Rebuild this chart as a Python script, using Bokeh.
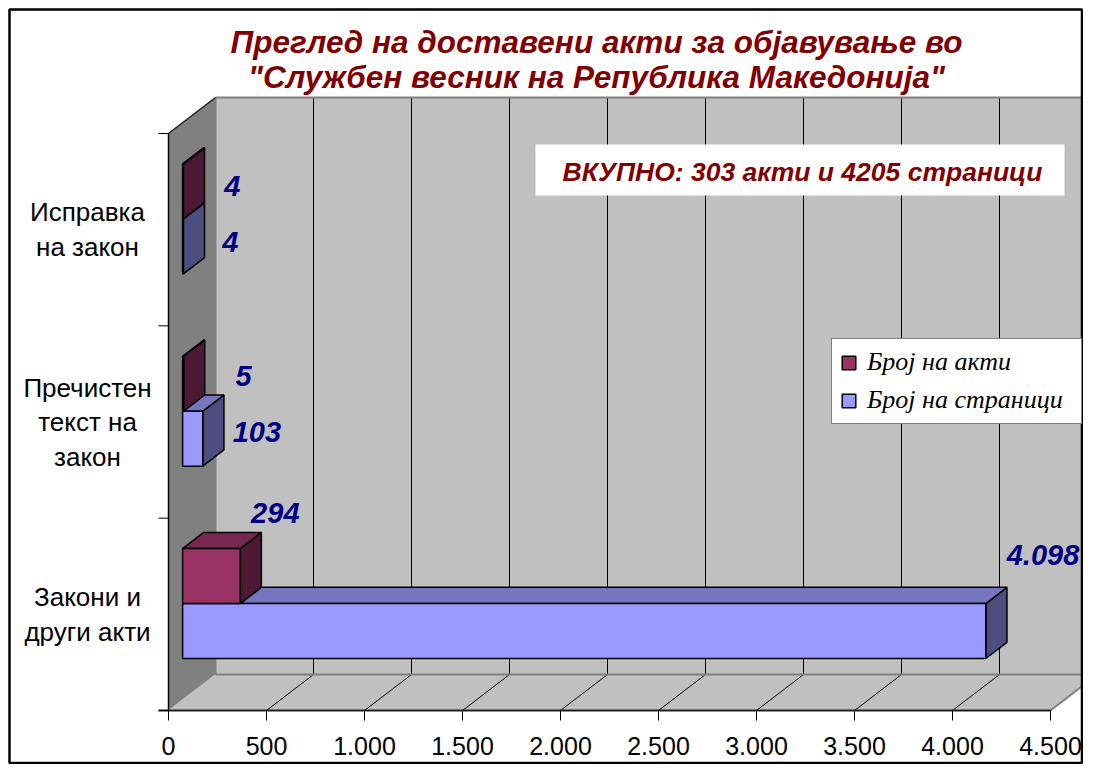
from bokeh.plotting import figure
from bokeh.models import Range1d, Legend, LegendItem
from bokeh.core.properties import value
from bokeh.embed import file_html
from bokeh.resources import INLINE

# ---------------- data ----------------
categories = ["Закони и\nдруги акти", "Пречистен\nтекст на\nзакон", "Исправка\nна закон"]
series_names = ["Број на акти", "Број на страници"]
acts = [294, 5, 4]
pages = [4098, 103, 4]
x_ticks = [0, 500, 1000, 1500, 2000, 2500, 3000, 3500, 4000, 4500]
title_lines = ["Преглед на доставени акти за објавување во",
               "\"Службен весник на Република Македонија\""]
total_text = "ВКУПНО: 303 акти и 4205 страници"
x_max = 4500

# ---------------- layout helpers (pixels) ----------------
W, H = 1083, 764
X0_PX = 168                 # px of value 0
SX = 98 / 500               # px per unit
Y0_PX = 710                 # px (from top) of category 0
SY = 577 / 3                # px per category
DX = 47 / SX                # 3D depth in data units
DY = 36 / SY
BAR_W = 1 / 3.5
F0, F1 = 0.3, 0.75
N = len(categories)


def fx(px):
    return (px - X0_PX) / SX


def fy(py):
    return (Y0_PX - py) / SY


def fmt(v):
    return f"{v:,}".replace(",", ".")


p = figure(width=W, height=H,
           x_range=Range1d(fx(0), fx(W)),
           y_range=Range1d(fy(H), fy(0)),
           output_backend="svg", toolbar_location=None,
           x_axis_type=None, y_axis_type=None)
p.min_border = 0
p.min_border_left = p.min_border_right = p.min_border_top = p.min_border_bottom = 0
p.outline_line_color = None
p.background_fill_color = "white"
p.border_fill_color = "white"

SANS = value("Liberation Sans")

# ---------------- walls & floor ----------------
p.patch([0, DX, DX, 0], [0, DY, N + DY, N], fill_color="#808080", line_color="#808080", line_width=1)
p.patch([DX, x_max + DX, x_max + DX, DX], [DY, DY, N + DY, N + DY], fill_color="#C0C0C0",
        line_color="#C0C0C0", line_width=1)
p.patch([0, x_max, x_max + DX, DX], [0, 0, DY, DY], fill_color="#C0C0C0", line_color="#C0C0C0", line_width=1)

# grid lines on back wall
inner = x_ticks[1:]
p.segment(x0=[t + DX for t in inner], y0=[DY] * len(inner), x1=[t + DX for t in inner],
          y1=[N + DY] * len(inner), line_color="black", line_width=1)
# floor lines
p.segment(x0=inner[:-1], y0=[0] * (len(inner) - 1), x1=[t + DX for t in inner[:-1]],
          y1=[DY] * (len(inner) - 1), line_color="black", line_width=1)
# gray wall edges
p.segment(x0=[DX, x_max, DX, DX], y0=[DY, 0, N + DY, DY],
          x1=[x_max + DX, x_max + DX, x_max + DX, DX], y1=[DY, DY, N + DY, N + DY],
          line_color="#808080", line_width=2)
p.segment(x0=[0], y0=[N], x1=[DX], y1=[N + DY], line_color="#202020", line_width=1.5)


# ---------------- 3D bars ----------------
def faces(vals, lo):
    fr_x, fr_y, tp_x, tp_y, sd_x, sd_y = [], [], [], [], [], []
    for c, v in enumerate(vals):
        y0 = c + lo
        y1 = y0 + BAR_W
        fr_x.append([0 + F0 * DX, v + F0 * DX, v + F0 * DX, 0 + F0 * DX])
        fr_y.append([y0 + F0 * DY, y0 + F0 * DY, y1 + F0 * DY, y1 + F0 * DY])
        tp_x.append([0 + F0 * DX, v + F0 * DX, v + F1 * DX, 0 + F1 * DX])
        tp_y.append([y1 + F0 * DY, y1 + F0 * DY, y1 + F1 * DY, y1 + F1 * DY])
        sd_x.append([v + F0 * DX, v + F1 * DX, v + F1 * DX, v + F0 * DX])
        sd_y.append([y0 + F0 * DY, y0 + F1 * DY, y1 + F1 * DY, y1 + F0 * DY])
    return (fr_x, fr_y), (tp_x, tp_y), (sd_x, sd_y)


def draw_series(vals, lo, front, top, side):
    fr, tp, sd = faces(vals, lo)
    p.patches(xs=sd[0], ys=sd[1], fill_color=side, line_color="black", line_width=1.5)
    p.patches(xs=tp[0], ys=tp[1], fill_color=top, line_color="black", line_width=1.5)
    return p.patches(xs=fr[0], ys=fr[1], fill_color=front, line_color="black", line_width=1.5)


r_pages = draw_series(pages, 0.5 - BAR_W, "#9999FF", "#7575C0", "#4D4D80")
r_acts = draw_series(acts, 0.5, "#993366", "#772850", "#4C1933")

# ---------------- axes (drawn on the scales) ----------------
tick_len_x = 10 / SX
tick_len_y = 10 / SY
p.segment(x0=[0], y0=[0], x1=[0], y1=[N], line_color="black", line_width=1.5)
p.segment(x0=[-tick_len_x], y0=[0], x1=[x_max], y1=[0], line_color="#202020", line_width=2)
p.segment(x0=[-tick_len_x] * (N + 1), y0=list(range(N + 1)), x1=[0] * (N + 1), y1=list(range(N + 1)),
          line_color="black", line_width=1)
p.segment(x0=x_ticks, y0=[0] * len(x_ticks), x1=x_ticks, y1=[-tick_len_y] * len(x_ticks),
          line_color="black", line_width=1)
p.text(x=x_ticks, y=[fy(745)] * len(x_ticks), text=[fmt(t) for t in x_ticks],
       text_font=SANS, text_font_size="25px", text_color="black",
       text_align="center", text_baseline="middle")
p.text(x=[fx(87)] * N, y=[c + 0.5 for c in range(N)], text=categories,
       text_font=SANS, text_font_size="26px", text_color="black",
       text_align="center", text_baseline="middle", text_line_height=1.15)

# ---------------- value labels ----------------
acts_dx = [25, 66, 55]
acts_dy = [-74, -19, -16]
pages_dx = [35, 44, 53]
pages_dy = [-87, -17, -15]
lab_x, lab_y, lab_t = [], [], []
for c in range(N):
    lab_x.append(acts[c] + acts_dx[c] / SX)
    lab_y.append(c + 0.5 + BAR_W / 2 - acts_dy[c] / SY)
    lab_t.append(fmt(acts[c]))
    lab_x.append(pages[c] + pages_dx[c] / SX)
    lab_y.append(c + 0.5 - BAR_W / 2 - pages_dy[c] / SY)
    lab_t.append(fmt(pages[c]))
p.text(x=lab_x, y=lab_y, text=lab_t, text_font=SANS, text_font_size="29px",
       text_font_style="bold italic", text_color="#000080",
       text_align="left", text_baseline="middle")

# ---------------- title & total box ----------------
p.text(x=[fx(596)] * 2, y=[fy(41), fy(76)], text=title_lines, text_font=SANS,
       text_font_size="31.5px", text_font_style="bold italic", text_color="#800000",
       text_align="center", text_baseline="middle")
p.quad(left=[fx(535)], right=[fx(1064)], top=[fy(144)], bottom=[fy(195)],
       fill_color="white", line_color=None)
p.text(x=[fx(802)], y=[fy(171)], text=[total_text], text_font=SANS,
       text_font_size="26.5px", text_font_style="bold italic", text_color="#800000",
       text_align="center", text_baseline="middle")

# ---------------- chart border ----------------
p.quad(left=[fx(9)], right=[fx(W - 1.5)], top=[fy(9)], bottom=[fy(H - 1.5)],
       fill_color=None, line_color="black", line_width=2.5)

# ---------------- legend ----------------
legend = Legend(items=[LegendItem(label=series_names[0], renderers=[r_acts]),
                       LegendItem(label=series_names[1], renderers=[r_pages])],
                location=(831, H - 424))
legend.label_text_font = "Liberation Serif"
legend.label_text_font_style = "italic"
legend.label_text_font_size = "26px"
legend.label_text_color = "black"
legend.glyph_width = 17
legend.glyph_height = 17
legend.label_height = 30
legend.label_width = 206
legend.label_standoff = 10
legend.spacing = 8
legend.padding = 8
legend.margin = 0
legend.border_line_color = "black"
legend.border_line_width = 1
legend.background_fill_color = "white"
legend.background_fill_alpha = 1
p.add_layout(legend)

open("out.html", "w").write(file_html(p, INLINE))
